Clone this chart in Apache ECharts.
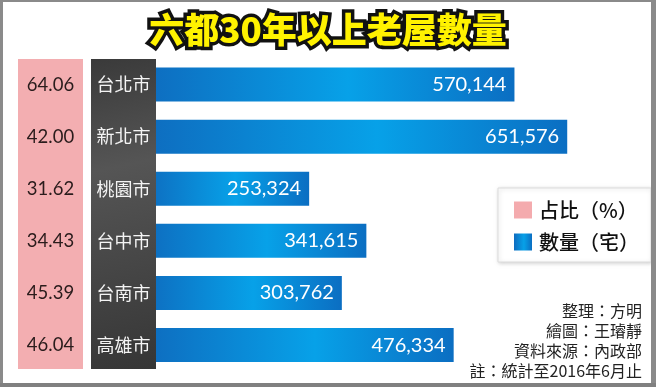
<!DOCTYPE html>
<html><head><meta charset="utf-8">
<script src="https://cdn.jsdelivr.net/npm/echarts@6/dist/echarts.min.js"></script>
<style>html,body{margin:0;padding:0;background:#fff}#c{width:656px;height:387px}</style>
</head><body><div id="c"></div>
<script>
const cities = ['台北市','新北市','桃園市','台中市','台南市','高雄市'];
const houses = [570144,651576,253324,341615,303762,476334];
const shares = ['64.06','42.00','31.62','34.43','45.39','46.04'];
const titleText = '六都30年以上老屋數量';
const seriesNames = ['占比（%）','數量（宅）'];
const credits = ['整理：方明','繪圖：王璿靜','資料來源：內政部','註：統計至2016年6月止'];

const chart = echarts.init(document.getElementById('c'));
const blue = new echarts.graphic.LinearGradient(0,0,1,0,[
  {offset:0,color:'#0e6cbf'},{offset:0.55,color:'#07a1e8'},{offset:1,color:'#0b6ec2'}]);
const dark = new echarts.graphic.LinearGradient(0,0,1,1,[
  {offset:0,color:'#3a3a3a'},{offset:0.35,color:'#555555'},{offset:1,color:'#363636'}]);
const CJK = 'Noto Sans CJK TC';
chart.setOption({
  animation:false,
  title:{text:titleText,left:'center',top:7,
    textStyle:{fontFamily:CJK,fontSize:35,fontWeight:900,color:'#fff200',textBorderColor:'#111',textBorderWidth:7}},
  grid:{left:145,right:57.4,top:58.5,bottom:15.9},
  xAxis:{type:'value',min:0,max:700000,show:false},
  yAxis:[
    {type:'category',data:cities,inverse:true,position:'left',z:20,
     axisLine:{show:false},axisTick:{show:false},splitLine:{show:false},
     axisLabel:{align:'center',margin:21.5,fontFamily:CJK,fontSize:18,color:'#f4f4f4'}},
    {type:'category',data:shares,inverse:true,position:'left',z:20,
     axisLine:{show:false},axisTick:{show:false},splitLine:{show:false},
     axisLabel:{align:'center',margin:94.5,fontFamily:'Lato',fontSize:18.5,color:'#2a1c1c'}}
  ],
  legend:{orient:'vertical',left:498,top:188,itemWidth:18,itemHeight:17,itemGap:12,icon:'rect',
    padding:[12,12,10,16],backgroundColor:'#fff',borderColor:'#dcdcdc',borderWidth:1,
    shadowColor:'rgba(0,0,0,0.18)',shadowBlur:4,shadowOffsetX:1,shadowOffsetY:1,
    textStyle:{fontFamily:CJK,fontSize:20,fontWeight:500,color:'#111',padding:[0,0,0,2]},
    data:seriesNames},
  series:[
    {name:seriesNames[0],type:'bar',yAxisIndex:1,data:[],itemStyle:{color:'#f4abae'}},
    {name:seriesNames[1],type:'bar',yAxisIndex:0,data:houses,barWidth:34,itemStyle:{color:blue},
     label:{show:true,position:'insideRight',distance:8,color:'#fff',fontFamily:'Lato',fontSize:20,
       formatter:p=>p.value.toLocaleString('en-US')}}
  ],
  graphic:[
    {type:'rect',z:10,shape:{x:18,y:59,width:65,height:310},style:{fill:'#f3aeb1'}},
    {type:'rect',z:10,shape:{x:91,y:59,width:65,height:310},style:{fill:dark}},
    {type:'text',z:10,style:{text:credits.join('\n'),x:642,y:300.5,textAlign:'right',textVerticalAlign:'top',
      font:'16px "Noto Sans CJK TC"',lineHeight:20,fill:'#222'}},
    {type:'rect',z:30,shape:{x:0,y:0,width:3,height:387},style:{fill:'#8a8a8a'}},
    {type:'rect',z:30,shape:{x:0,y:0,width:656,height:2},style:{fill:'#8a8a8a'}},
    {type:'rect',z:30,shape:{x:651,y:0,width:5,height:387},style:{fill:'#8a8a8a'}},
    {type:'rect',z:30,shape:{x:0,y:383,width:656,height:4},style:{fill:'#808080'}}
  ]
});
</script></body></html>
